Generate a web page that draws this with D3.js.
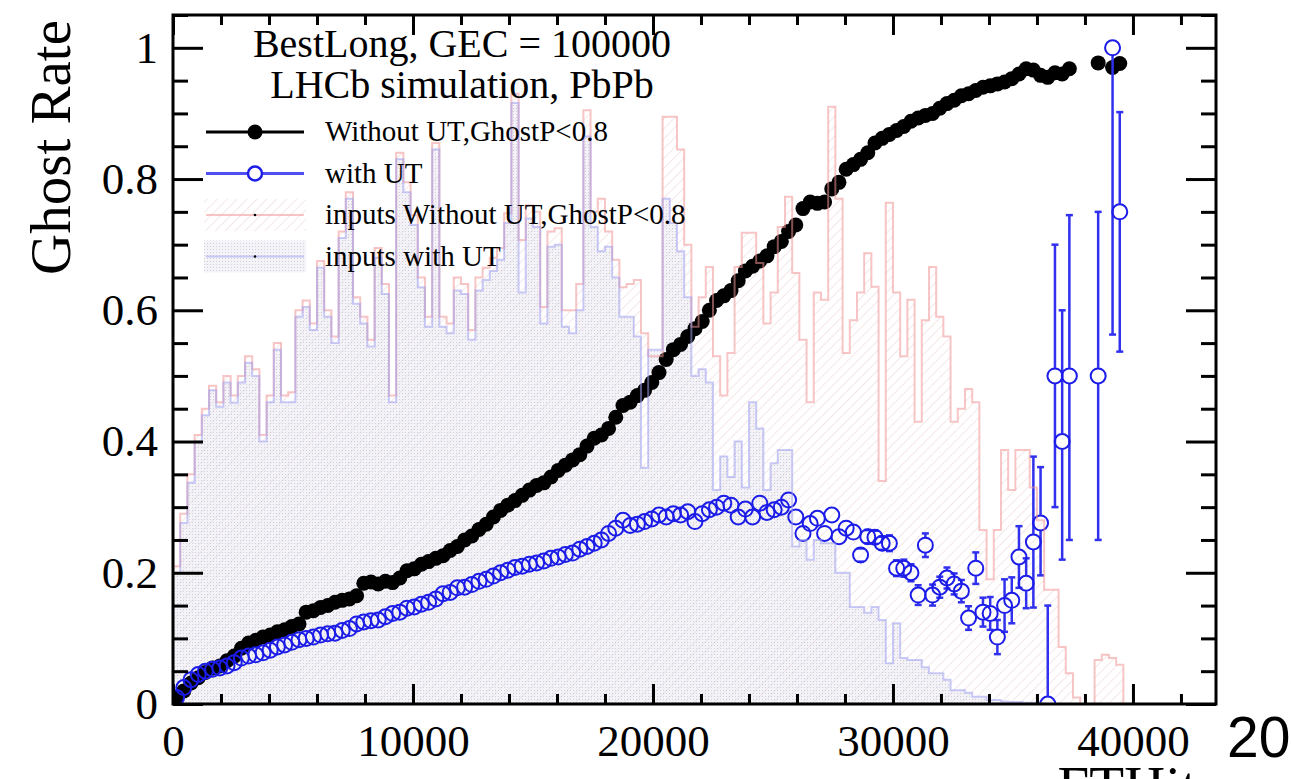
<!DOCTYPE html>
<html>
<head>
<meta charset="utf-8">
<script src="https://cdn.jsdelivr.net/npm/d3@7"></script>
<style>
  body { margin: 0; background: #fff; }
  svg { display: block; }
</style>
</head>
<body>
<svg id="chart" width="1291" height="779"></svg>
<script>
// ── Data (bins of 300 FTHits, index i -> [300*i, 300*(i+1)]) ──
const binWidth = 300;

// ghost rate, black filled points
const ghostNoUT = [
  0.01,0.02,0.032,0.04,0.048,0.055,0.058,0.066,0.073,0.085,
  0.093,0.097,0.102,0.105,0.11,0.113,0.118,0.122,0.14,0.142,
  0.147,0.15,0.155,0.158,0.16,0.165,0.184,0.186,0.183,0.187,
  0.185,0.192,0.203,0.206,0.213,0.217,0.222,0.226,0.234,0.24,
  0.25,0.256,0.266,0.274,0.285,0.295,0.303,0.31,0.318,0.326,
  0.333,0.337,0.346,0.356,0.364,0.372,0.38,0.393,0.405,0.41,
  0.42,0.437,0.455,0.46,0.47,0.478,0.49,0.505,0.525,0.54,
  0.548,0.56,0.572,0.583,0.6,0.615,0.622,0.63,0.645,0.66,
  0.667,0.675,0.683,0.697,0.705,0.72,0.73,0.755,0.765,0.763,
  0.765,0.785,0.795,0.815,0.822,0.83,0.84,0.855,0.862,0.868,
  0.874,0.88,0.888,0.893,0.897,0.9,0.908,0.915,0.92,0.927,
  0.93,0.935,0.94,0.942,0.945,0.948,0.953,0.96,0.968,0.966,
  0.958,0.955,0.962,0.96,0.968,null,null,null,0.977,null,
  0.97,0.976
];

// ghost rate, blue open points
const ghostUT = [
  0.01,0.025,0.037,0.045,0.05,0.053,0.055,0.058,0.063,0.07,
  0.073,0.075,0.078,0.082,0.087,0.09,0.094,0.098,0.1,0.102,
  0.105,0.107,0.108,0.112,0.115,0.122,0.125,0.127,0.128,0.133,
  0.138,0.14,0.146,0.148,0.152,0.155,0.16,0.168,0.17,0.177,
  0.178,0.182,0.187,0.19,0.195,0.2,0.204,0.208,0.21,0.213,
  0.215,0.218,0.222,0.224,0.228,0.23,0.236,0.24,0.245,0.25,
  0.26,0.268,0.28,0.272,0.274,0.278,0.282,0.288,0.285,0.29,
  0.288,0.293,0.278,0.29,0.296,0.3,0.306,0.303,0.285,0.297,
  0.285,0.306,0.292,0.296,0.3,0.311,0.285,0.26,0.275,0.283,
  0.26,0.288,0.255,0.268,0.262,0.227,0.255,0.254,0.245,0.245,
  0.207,0.207,0.2,0.166,0.242,0.166,0.178,0.192,0.183,0.172,
  0.131,0.207,0.14,0.138,0.102,0.15,0.158,0.224,0.184,0.247,
  0.276,0,0.5,0.4,0.5,null,null,null,0.5,null,
  1.0,0.75
];

// visible error bars on the blue points
const utErrBins = [95,96,97,98,99,100,101,102,103,104,105,106,107,108,109,110,111,112,113,114,115,116,117,118,119,120,121,122,123,124,128,130,131];
const utErrLo   = [0.01,0.01,0.01,0.01,0.012,0.012,0.013,0.013,0.015,0.018,0.016,0.016,0.016,0.016,0.017,0.018,0.024,0.022,0.025,0.026,0.04,0.035,0.047,0.038,0.1,0.08,0,0.2,0.18,0.25,0.25,0.437,0.213];
const utErrHi   = [0.01,0.01,0.01,0.01,0.012,0.012,0.013,0.013,0.015,0.018,0.016,0.016,0.016,0.016,0.017,0.018,0.024,0.022,0.025,0.026,0.04,0.035,0.047,0.038,0.13,0.085,0.15,0.2,0.2,0.245,0.25,0,0.152];

// input distributions (arbitrary normalisation)
const inputsNoUT = [
  0.21,0.29,0.35,0.41,0.45,0.485,0.46,0.5,0.47,0.5,
  0.53,0.51,0.41,0.47,0.55,0.47,0.475,0.6,0.615,0.58,
  0.675,0.6,0.56,0.72,0.78,0.62,0.59,0.555,0.695,0.64,
  0.47,0.84,0.795,0.745,0.65,0.59,0.855,0.59,0.58,0.65,
  0.64,0.57,0.65,0.665,0.68,0.695,0.748,0.93,0.707,0.76,
  0.75,0.605,0.72,0.725,0.6,0.6,0.64,0.905,0.75,0.77,
  0.72,0.677,0.635,0.64,0.646,0.565,0.53,0.53,0.895,0.895,
  0.845,0.7,0.575,0.62,0.666,0.53,0.47,0.535,0.666,0.718,
  0.718,0.672,0.58,0.627,0.727,0.773,0.657,0.555,0.46,0.627,
  0.616,0.91,0.77,0.535,0.585,0.627,0.687,0.636,0.34,0.764,
  0.627,0.53,0.616,0.43,0.585,0.666,0.59,0.56,0.43,0.45,
  0.48,0.46,0.265,0.19,0.265,0.387,0.326,0.387,0.387,0.33,
  0.28,0.174,0.174,0.087,0.047,0.01,0,0,0.067,0.075,0.07,0.06
];
const inputsUT = [
  0.2,0.276,0.337,0.4,0.44,0.478,0.453,0.49,0.459,0.49,
  0.52,0.5,0.4,0.46,0.54,0.46,0.46,0.59,0.605,0.57,
  0.665,0.59,0.55,0.71,0.77,0.61,0.58,0.545,0.68,0.625,
  0.46,0.83,0.78,0.73,0.635,0.575,0.845,0.575,0.565,0.63,
  0.625,0.555,0.63,0.646,0.66,0.677,0.733,0.916,0.627,0.74,
  0.727,0.58,0.697,0.7,0.575,0.565,0.6,0.865,0.727,0.69,
  0.697,0.65,0.59,0.59,0.56,0.36,0.54,0.54,0.77,0.733,
  0.69,0.62,0.5,0.51,0.49,0.326,0.377,0.346,0.4,0.33,
  0.46,0.42,0.326,0.367,0.387,0.387,0.24,0.25,0.22,0.25,
  0.245,0.245,0.2,0.2,0.148,0.148,0.139,0.148,0.128,0.062,
  0.123,0.07,0.067,0.067,0.056,0.047,0.047,0.037,0.021,0.021,
  0.017,0.011,0.011,0.006,0.006,0.004,0.003,0.003,0.002,0.002,0.001
];

const xTicks = [0, 10000, 20000, 30000, 40000];
const xMinor = d3.range(0, 44000, 2000).filter(v => v % 10000 !== 0);
const yTicks = [0, 0.2, 0.4, 0.6, 0.8, 1];
const yMinor = [0.05,0.1,0.15,0.25,0.3,0.35,0.45,0.5,0.55,0.65,0.7,0.75,0.85,0.9,0.95,1.05];
const titleLines = ['BestLong, GEC = 100000', 'LHCb simulation, PbPb'];
const legendLabels = ['Without UT,GhostP<0.8', 'with UT', 'inputs Without UT,GhostP<0.8', 'inputs with UT'];

// ── Setup ──
const SERIF = "'Liberation Serif', 'Times New Roman', serif";
const svg = d3.select('#chart');
const L = 173, R = 1216, T = 15, B = 704;
const xMax = 43460;
const x = d3.scaleLinear().domain([0, xMax]).range([L, R]);
const y = d3.scaleLinear().domain([0, 1.05]).range([B, T]);

const BLUE = '#1c1ce8';
const PINK_LINE = 'rgba(240,150,150,0.55)';
const LAV_LINE = 'rgba(160,160,240,0.55)';

const defs = svg.append('defs');
defs.append('clipPath').attr('id', 'frame')
  .append('rect').attr('x', L).attr('y', T).attr('width', R - L).attr('height', B - T);

const hatch = defs.append('pattern').attr('id', 'hatch')
  .attr('patternUnits', 'userSpaceOnUse').attr('width', 7).attr('height', 7)
  .attr('patternTransform', 'rotate(45)');
hatch.append('line').attr('x1', 0).attr('y1', 0).attr('x2', 0).attr('y2', 7)
  .attr('stroke', 'rgba(215,165,165,0.5)').attr('stroke-width', 1.1);

const dots = defs.append('pattern').attr('id', 'dots')
  .attr('patternUnits', 'userSpaceOnUse').attr('width', 3).attr('height', 3);
dots.append('rect').attr('width', 3).attr('height', 3).attr('fill', 'rgba(228,228,238,0.4)');
dots.append('rect').attr('width', 1).attr('height', 1).attr('fill', 'rgba(150,150,185,0.4)');

const plot = svg.append('g').attr('clip-path', 'url(#frame)');

// ── Input histograms: fills first ──
const nBins = Math.ceil(xMax / binWidth);
function histPts(vals) {
  const p = d3.range(nBins).map(i => ({ lo: i * binWidth, v: vals[i] || 0 }));
  p.push({ lo: nBins * binWidth, v: 0 });
  return p;
}
const area = d3.area().curve(d3.curveStepAfter)
  .x(d => x(d.lo)).y0(y(0)).y1(d => y(d.v));

plot.append('path').attr('d', area(histPts(inputsNoUT))).attr('fill', 'url(#hatch)');
plot.append('path').attr('d', area(histPts(inputsUT))).attr('fill', 'url(#dots)');

// ── Points ──
const toPts = arr => arr.map((v, i) => ({ i, x: (i + 0.5) * binWidth, v })).filter(d => d.v !== null);

plot.append('g').selectAll('circle').data(toPts(ghostNoUT)).join('circle')
  .attr('cx', d => x(d.x)).attr('cy', d => y(d.v)).attr('r', 7.5)
  .attr('fill', '#000');

const errs = utErrBins.map((b, k) => ({ x: (b + 0.5) * binWidth, v: ghostUT[b], lo: utErrLo[k], hi: utErrHi[k] }));
const eg = plot.append('g').attr('stroke', '#3030ee').attr('stroke-width', 2.5);
errs.forEach(e => {
  const cx = x(e.x);
  if (e.hi > 0) {
    eg.append('line').attr('x1', cx).attr('x2', cx).attr('y1', y(e.v) - 8).attr('y2', y(e.v + e.hi));
    eg.append('line').attr('x1', cx - 3.5).attr('x2', cx + 3.5).attr('y1', y(e.v + e.hi)).attr('y2', y(e.v + e.hi));
  }
  if (e.lo > 0) {
    eg.append('line').attr('x1', cx).attr('x2', cx).attr('y1', y(e.v) + 8).attr('y2', y(e.v - e.lo));
    eg.append('line').attr('x1', cx - 3.5).attr('x2', cx + 3.5).attr('y1', y(e.v - e.lo)).attr('y2', y(e.v - e.lo));
  }
});

plot.append('g').selectAll('circle').data(toPts(ghostUT)).join('circle')
  .attr('cx', d => x(d.x)).attr('cy', d => y(d.v)).attr('r', 7.5)
  .attr('fill', 'none').attr('stroke', BLUE).attr('stroke-width', 2);

// ── Histogram outlines on top, as in the original ──
plot.append('path').attr('d', area(histPts(inputsNoUT)))
  .attr('fill', 'none').attr('stroke', PINK_LINE).attr('stroke-width', 2);
plot.append('path').attr('d', area(histPts(inputsUT)))
  .attr('fill', 'none').attr('stroke', LAV_LINE).attr('stroke-width', 2);

// ── Frame and axes (ticks inside, ROOT style) ──
function styleAxis(g) {
  g.select('.domain').remove();
  g.selectAll('line').attr('stroke', '#000').attr('stroke-width', 3);
  g.selectAll('text').attr('font-family', SERIF).attr('font-size', 45).attr('fill', '#000');
}
svg.append('g').attr('transform', `translate(0,${B})`)
  .call(d3.axisBottom(x).tickValues(xTicks).tickSize(-20).tickPadding(20).tickFormat(d3.format('d')))
  .call(styleAxis);
svg.append('g').attr('transform', `translate(0,${B})`)
  .call(d3.axisBottom(x).tickValues(xMinor).tickSize(-10).tickFormat(''))
  .call(styleAxis);
svg.append('g').attr('transform', `translate(0,${T})`)
  .call(d3.axisTop(x).tickValues(xTicks).tickSize(-20).tickFormat(''))
  .call(styleAxis);
svg.append('g').attr('transform', `translate(0,${T})`)
  .call(d3.axisTop(x).tickValues(xMinor).tickSize(-10).tickFormat(''))
  .call(styleAxis);

svg.append('g').attr('transform', `translate(${L},0)`)
  .call(d3.axisLeft(y).tickValues(yTicks).tickSize(-30).tickPadding(15).tickFormat(d3.format('~g')))
  .call(styleAxis);
svg.append('g').attr('transform', `translate(${L},0)`)
  .call(d3.axisLeft(y).tickValues(yMinor).tickSize(-15).tickFormat(''))
  .call(styleAxis);
svg.append('g').attr('transform', `translate(${R},0)`)
  .call(d3.axisRight(y).tickValues(yTicks).tickSize(-30).tickFormat(''))
  .call(styleAxis);
svg.append('g').attr('transform', `translate(${R},0)`)
  .call(d3.axisRight(y).tickValues(yMinor).tickSize(-15).tickFormat(''))
  .call(styleAxis);

svg.append('rect').attr('x', L).attr('y', T).attr('width', R - L).attr('height', B - T)
  .attr('fill', 'none').attr('stroke', '#000').attr('stroke-width', 3);

// axis titles (x title is cut by the bottom edge, as in the original)
svg.append('text').attr('transform', 'translate(70,20) rotate(-90)')
  .attr('text-anchor', 'end').attr('font-family', SERIF).attr('font-size', 57)
  .text('Ghost Rate');
svg.append('text').attr('x', 1219).attr('y', 806)
  .attr('text-anchor', 'end').attr('font-family', SERIF).attr('font-size', 57)
  .text('FTHits');

// page number
svg.append('text').attr('x', 1227).attr('y', 757)
  .attr('font-family', "'Liberation Sans', Arial, sans-serif").attr('font-size', 57)
  .text('20');

// ── Title and legend ──
svg.append('g').selectAll('text').data(titleLines).join('text')
  .attr('x', 462).attr('y', (d, i) => 57 + i * 41)
  .attr('text-anchor', 'middle').attr('font-family', SERIF).attr('font-size', 40)
  .text(d => d);

const lg = svg.append('g');
const rowY = i => 132 + i * 41.5;
const x0 = 206, x1 = 304, xm = 255;

// row 0: black filled marker
lg.append('line').attr('x1', x0).attr('x2', x1).attr('y1', rowY(0)).attr('y2', rowY(0))
  .attr('stroke', '#000').attr('stroke-width', 3);
lg.append('circle').attr('cx', xm).attr('cy', rowY(0)).attr('r', 7.5).attr('fill', '#000');
// row 1: blue open marker
lg.append('line').attr('x1', x0).attr('x2', x1).attr('y1', rowY(1)).attr('y2', rowY(1))
  .attr('stroke', '#5050f0').attr('stroke-width', 3);
lg.append('circle').attr('cx', xm).attr('cy', rowY(1)).attr('r', 7).attr('fill', '#fff')
  .attr('stroke', BLUE).attr('stroke-width', 2.5);
// rows 2,3: filled boxes
[['url(#hatch)', PINK_LINE], ['url(#dots)', LAV_LINE]].forEach(([fill, col], k) => {
  const cy = rowY(2 + k);
  lg.append('rect').attr('x', x0 - 2).attr('y', cy - 16).attr('width', x1 - x0 + 4).attr('height', 32)
    .attr('fill', fill);
  lg.append('line').attr('x1', x0).attr('x2', x1).attr('y1', cy).attr('y2', cy)
    .attr('stroke', col).attr('stroke-width', 2);
  lg.append('circle').attr('cx', xm).attr('cy', cy).attr('r', 1.3).attr('fill', '#000');
});

lg.selectAll('text').data(legendLabels).join('text')
  .attr('x', 325).attr('y', (d, i) => rowY(i) + 9)
  .attr('font-family', SERIF).attr('font-size', 29)
  .text(d => d);
</script>
</body>
</html>
